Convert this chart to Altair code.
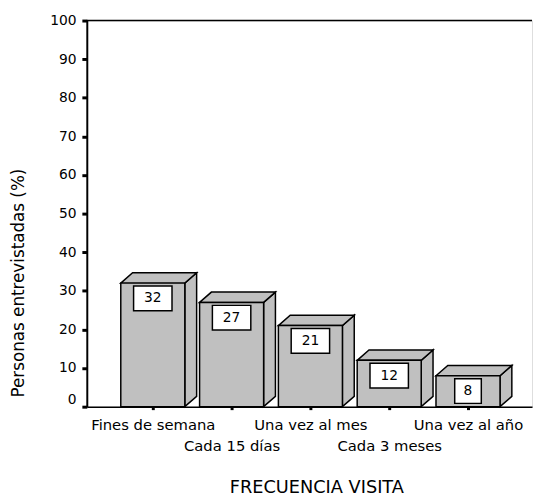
import altair as alt
import pandas as pd

categories = ["Fines de semana", "Cada 15 días", "Una vez al mes", "Cada 3 meses", "Una vez al año"]
values = [32, 27, 21, 12, 8]
y_ticks = [0, 10, 20, 30, 40, 50, 60, 70, 80, 90, 100]

# layout (pixels)
W, H = 452, 392
X_MIN = -0.8375
X_STEP_PX = 80.0
X_MAX = X_MIN + W / X_STEP_PX
PX_Y = H / 100.0
HALF_W = 32.5 / X_STEP_PX
DX = 12 / X_STEP_PX
DY = 10.5 / PX_Y

front_rows, top_rows, side_rows, box_rows = [], [], [], []
for i, (c, v) in enumerate(zip(categories, values)):
    L, R = i - HALF_W, i + HALF_W
    front_rows.append({"id": i, "l": L, "r": R, "v": v})
    top_rows += [
        {"id": i, "x": L, "y": v, "y2": v},
        {"id": i, "x": L + DX, "y": v + DY, "y2": v},
        {"id": i, "x": R, "y": v + DY, "y2": v},
        {"id": i, "x": R + DX, "y": v + DY, "y2": v + DY},
    ]
    side_rows += [
        {"id": i, "x": R, "y": v, "y2": 0},
        {"id": i, "x": R + DX, "y": v + DY, "y2": DY},
    ]
    bw = (15 + 12 * len(str(v))) / X_STEP_PX
    box_rows.append({"id": i, "l": i - bw / 2, "r": i + bw / 2,
                     "t": v - 3 / PX_Y, "b": v - 28 / PX_Y,
                     "m": v - 15.5 / PX_Y, "label": str(v), "x": i})

front = pd.DataFrame(front_rows)
top = pd.DataFrame(top_rows)
side = pd.DataFrame(side_rows)
boxes = pd.DataFrame(box_rows)

FONT = "DejaVu Sans"
GREY = "#c0c0c0"

xs = alt.Scale(domain=[X_MIN, X_MAX], nice=False, zero=False)
ys = alt.Scale(domain=[0, 100], nice=False, zero=True)

cat_js = "[" + ",".join('"%s"' % c for c in categories) + "]"

x_axis = alt.Axis(
    values=list(range(len(categories))),
    labelExpr=cat_js + "[datum.value]",
    grid=False, domainColor="black", domainWidth=1.5,
    tickColor="black", tickWidth=3, tickSize=3,
    labelFont=FONT, labelFontSize=15, labelColor="black",
    labelBaseline="top", labelAlign="center",
    labelPadding={"condition": {"test": "datum.value % 2 == 1", "value": 30}, "value": 8},
    labelOverlap=False, labelFlush=False,
    title="FRECUENCIA VISITA", titleFont=FONT, titleFontSize=18,
    titleFontWeight="normal", titleColor="black",
    titleX=233, titleY=87, titleBaseline="alphabetic", titleAlign="center",
)
y_axis = alt.Axis(
    values=y_ticks, tickCount=11, grid=False, domainColor="black", domainWidth=2,
    tickColor="black", tickWidth=3, tickSize=5,
    labelFont=FONT, labelFontSize=14, labelColor="black", labelPadding=6,
    labelOverlap=False, labelFlush=False,
    labelOffset={"condition": {"test": "datum.value == 0", "value": -7}, "value": 0},
    title="Personas entrevistadas (%)", titleFont=FONT, titleFontSize=17,
    titleFontWeight="normal", titleColor="black",
    titleX=-60, titleY=266, titleAngle=270, titleBaseline="bottom", titleAlign="center",
)

side_layer = alt.Chart(side).mark_area(fill=GREY, stroke="black", strokeWidth=1.5).encode(
    x=alt.X("x:Q", scale=xs, axis=x_axis),
    y=alt.Y("y:Q", scale=ys, axis=y_axis),
    y2="y2:Q",
    detail="id:N",
)
top_layer = alt.Chart(top).mark_area(fill=GREY, stroke="black", strokeWidth=1.5).encode(
    x=alt.X("x:Q", scale=xs, axis=x_axis), y=alt.Y("y:Q", scale=ys, axis=y_axis), y2="y2:Q", detail="id:N",
)
front_layer = alt.Chart(front).mark_rect(fill=GREY, stroke="black", strokeWidth=1.5).encode(
    x=alt.X("l:Q", scale=xs, axis=x_axis), x2="r:Q", y=alt.Y("v:Q", scale=ys, axis=y_axis), y2=alt.datum(0),
)
box_layer = alt.Chart(boxes).mark_rect(fill="white", stroke="black", strokeWidth=1.5).encode(
    x=alt.X("l:Q", scale=xs, axis=x_axis), x2="r:Q", y=alt.Y("t:Q", scale=ys, axis=y_axis), y2="b:Q",
)
text_layer = alt.Chart(boxes).mark_text(font=FONT, fontSize=14, color="black", baseline="middle").encode(
    x=alt.X("x:Q", scale=xs, axis=x_axis), y=alt.Y("m:Q", scale=ys, axis=y_axis), text="label:N",
)
top_line = alt.Chart(pd.DataFrame({"v": [100]})).mark_rule(color="black", strokeWidth=1.5).encode(
    y=alt.Y("v:Q", scale=ys, axis=y_axis),
)

chart = alt.layer(side_layer, top_layer, front_layer, box_layer, text_layer, top_line).properties(
    width=W, height=H,
    autosize=alt.AutoSizeParams(type="none"),
    padding={"left": 80, "top": 9, "right": 2, "bottom": 91},
).configure_view(stroke=None).configure(background="white")

chart.save("out.html", embed_options={"renderer": "svg", "actions": False})
